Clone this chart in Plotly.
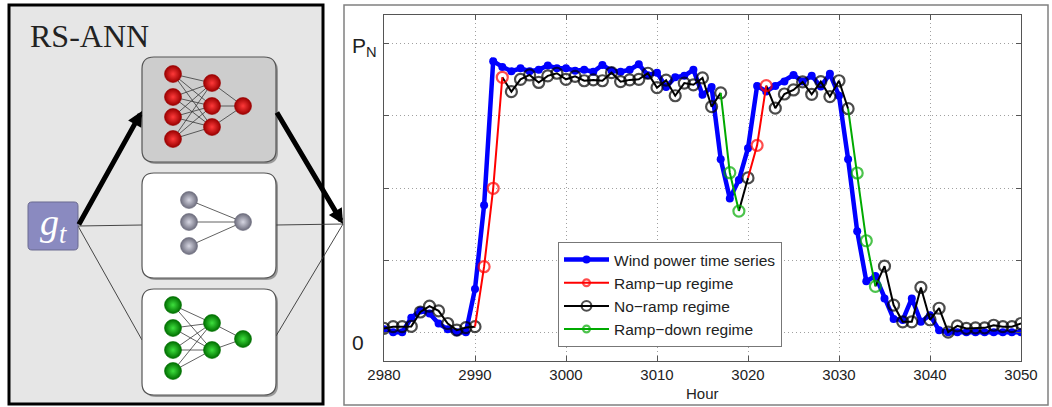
import plotly.graph_objects as go

# ---------------- data ----------------
hours = list(range(2980, 3051))
wind_power = [
    0.01, 0.0, 0.0, 0.05, 0.075, 0.065, 0.03, 0.01, 0.0, 0.0,          # 2980-2989
    0.15, 0.44, 0.94, 0.92, 0.905, 0.915, 0.905, 0.91, 0.925, 0.915,   # 2990-2999
    0.915, 0.907, 0.91, 0.903, 0.927, 0.907, 0.903, 0.91, 0.929, 0.891,  # 3000-3009
    0.90, 0.85, 0.884, 0.889, 0.91, 0.823, 0.85, 0.60, 0.464, 0.528,   # 3010-3019
    0.638, 0.854, 0.835, 0.854, 0.869, 0.892, 0.869, 0.889, 0.852, 0.896,  # 3020-3029
    0.82, 0.60, 0.35, 0.177, 0.195, 0.117, 0.046, 0.042, 0.117, 0.036,  # 3030-3039
    0.059, 0.007, 0.0, 0.0, 0.0, 0.0, 0.0, 0.0, 0.0, 0.0, 0.0,         # 3040-3050
]
forecast = [
    0.013, 0.019, 0.019, 0.02, 0.07, 0.09, 0.074, 0.03, 0.007, 0.016,  # 2980-2989
    0.019, 0.227, 0.499, 0.884, 0.834, 0.877, 0.892, 0.866, 0.889, 0.898,  # 2990-2999
    0.877, 0.887, 0.872, 0.875, 0.872, 0.90, 0.869, 0.875, 0.877, 0.898,  # 3000-3009
    0.848, 0.874, 0.82, 0.864, 0.858, 0.882, 0.782, 0.83, 0.553, 0.42,  # 3010-3019
    0.535, 0.648, 0.855, 0.777, 0.826, 0.84, 0.868, 0.825, 0.869, 0.817,  # 3020-3029
    0.872, 0.775, 0.552, 0.317, 0.159, 0.229, 0.094, 0.036, 0.036, 0.155,  # 3030-3039
    0.043, 0.083, 0.0, 0.022, 0.013, 0.015, 0.015, 0.024, 0.019, 0.019, 0.03,  # 3040-3050
]
# regime of each hour: U = ramp-up, N = no-ramp, D = ramp-down
regime = list(
    "NNNNNNNNNNN"        # 2980-2990
    "UUU"                # 2991-2993
    "NNNNNNNNNNNNNNNNNNNNNNNN"  # 2994-3017
    "DD"                 # 3018-3019
    "N"                  # 3020
    "UU"                 # 3021-3022
    "NNNNNNNNN"          # 3023-3031
    "DDD"                # 3032-3034
    "NNNNNNNNNNNNNNNN"   # 3035-3050
)
x_ticks = [2980, 2990, 3000, 3010, 3020, 3030, 3040, 3050]
y_grid = [0, 0.25, 0.5, 0.75, 1.0]

W, H = 1052, 407
FONT = "Liberation Sans"
LEFT_W = 344  # width of diagram panel in pixels


def X(px):
    return px / W


def Y(py):
    return 1 - py / H


fig = go.Figure()


def regime_trace(code, name, color, rank):
    xs, ys, sizes = [], [], []
    for i, r in enumerate(regime):
        if r != code:
            continue
        if i > 0 and regime[i - 1] != code:
            if xs:
                xs.append(None); ys.append(None); sizes.append(0)
            xs.append(hours[i - 1]); ys.append(forecast[i - 1]); sizes.append(0)
        xs.append(hours[i]); ys.append(forecast[i]); sizes.append(11)
    return go.Scatter(
        x=xs, y=ys, mode="lines+markers", name=name, legendrank=rank,
        legendgroup=name,
        line=dict(color=color, width=2),
        marker=dict(symbol="circle-open", size=sizes, color=color,
                    line=dict(width=2.2, color=color)),
        xaxis="x", yaxis="y",
    )


fig.add_trace(go.Scatter(
    x=hours, y=wind_power, mode="lines+markers", name="Wind power time series",
    legendrank=1, legendgroup="w",
    line=dict(color="#0000ff", width=4.5),
    marker=dict(symbol="circle", size=8, color="#0000ff"),
    xaxis="x", yaxis="y",
))
fig.add_trace(regime_trace("N", "No\u2212ramp regime", "#000000", 3))
fig.add_trace(regime_trace("U", "Ramp\u2212up regime", "#ff0000", 2))
fig.add_trace(regime_trace("D", "Ramp\u2212down regime", "#00aa00", 4))

# ---------------- diagram (paper coordinates from pixels) ----------------
shapes = []
annotations = []


def rrect(x0, y0, x1, y1, r):
    def p(a, b):
        return f"{X(a):.5f},{Y(b):.5f}"
    return (f"M{p(x0+r, y0)} L{p(x1-r, y0)} Q{p(x1, y0)} {p(x1, y0+r)} L{p(x1, y1-r)} "
            f"Q{p(x1, y1)} {p(x1-r, y1)} L{p(x0+r, y1)} Q{p(x0, y1)} {p(x0, y1-r)} "
            f"L{p(x0, y0+r)} Q{p(x0, y0)} {p(x0+r, y0)} Z")


def prect(x0, y0, x1, y1, **kw):
    shapes.append(dict(type="rect", xref="paper", yref="paper", x0=X(x0), x1=X(x1),
                       y0=Y(y1), y1=Y(y0), layer="below", **kw))


def pline(a, b, **kw):
    shapes.append(dict(type="line", xref="paper", yref="paper", x0=X(a[0]), y0=Y(a[1]),
                       x1=X(b[0]), y1=Y(b[1]), layer="below", **kw))


# right panel frame
prect(344, 5, 1048, 405, line=dict(color="#808080", width=1.5), fillcolor="rgba(0,0,0,0)")
# left outer box
prect(9, 5, 323, 404, line=dict(color="#000000", width=3), fillcolor="#e6e6e6")

gt = (28, 202, 78, 250)
src = (78, 226)
hub = (343, 224)
boxes = [(142, 57, 276, 162, "#cdcdcd"), (142, 173, 276, 278, "#ffffff"),
         (142, 289, 276, 395, "#ffffff")]

for (a, b) in [(src, (142, 225)), (src, (142, 340)), ((276, 225), hub), ((276, 336), hub)]:
    pline(a, b, line=dict(color="#333333", width=0.9))

for (x0, y0, x1, y1, fc) in boxes:
    shapes.append(dict(type="path", xref="paper", yref="paper",
                       path=rrect(x0 + 2, y0 + 2, x1 + 2, y1 + 2, 12),
                       fillcolor="rgba(60,60,60,0.45)", line=dict(width=0), layer="below"))
    shapes.append(dict(type="path", xref="paper", yref="paper", path=rrect(x0, y0, x1, y1, 12),
                       fillcolor=fc, line=dict(color="#555555", width=1.2), layer="below"))

shapes.append(dict(type="path", xref="paper", yref="paper", path=rrect(*gt, 4),
                   fillcolor="#8a8ac0", line=dict(color="#6a6a90", width=1), layer="below"))
annotations.append(dict(xref="paper", yref="paper", x=X(53), y=Y(225),
                        text="<i>g<sub>t</sub></i>", showarrow=False,
                        xanchor="center", yanchor="middle",
                        font=dict(family="Liberation Serif", size=38, color="white")))
annotations.append(dict(xref="paper", yref="paper", x=X(28), y=Y(36), xanchor="left",
                        yanchor="middle", text="RS-ANN", showarrow=False,
                        font=dict(family="Liberation Serif", size=32, color="#222222")))

for (a, b) in [(src, (142, 111)), ((276, 111), hub)]:
    annotations.append(dict(xref="paper", yref="paper", x=X(b[0]), y=Y(b[1]),
                            axref="pixel", ayref="pixel", ax=a[0] - b[0], ay=a[1] - b[1],
                            text="", showarrow=True,
                            arrowhead=2, arrowsize=0.6, arrowwidth=5, arrowcolor="#000000"))

# neural networks (subplot x2/y2 covers only the diagram panel, pixel units)
nets = [
    # layers, edge colour, centre (highlight) colour
    ([(173, [74, 97, 117, 139]), (212, [83, 106, 127]), (243, [106])], "#9a0000", "#ff3a3a"),
    ([(189, [200, 222, 246]), (243, [222])], "#6c6c7c", "#d6d6e2"),
    ([(173, [305, 328, 350, 371]), (212, [323, 350]), (243, [339])], "#006e00", "#3ee03e"),
]
for layers, edge, centre in nets:
    lx, ly = [], []
    for (xa, ya), (xb, yb) in zip(layers[:-1], layers[1:]):
        for y1 in ya:
            for y2 in yb:
                lx += [xa, xb, None]
                ly += [y1, y2, None]
    fig.add_trace(go.Scatter(x=lx, y=ly, mode="lines", xaxis="x2", yaxis="y2",
                             line=dict(color="#3a3a3a", width=0.8), showlegend=False,
                             hoverinfo="skip"))
    nx = [x for x, ys in layers for _ in ys]
    ny = [y for _, ys in layers for y in ys]
    fig.add_trace(go.Scatter(x=nx, y=ny, mode="markers", xaxis="x2", yaxis="y2",
                             marker=dict(size=17, color=edge,
                                         gradient=dict(type="radial", color=centre),
                                         line=dict(color=edge, width=0.6)),
                             showlegend=False, hoverinfo="skip"))

# ---------------- chart labels ----------------
annotations.append(dict(xref="paper", yref="paper", x=X(379), y=Y(47), xanchor="right",
                        yanchor="middle", text="P<sub>N</sub>", showarrow=False,
                        font=dict(family=FONT, size=21, color="#222222")))
annotations.append(dict(xref="paper", yref="paper", x=X(358), y=Y(342), xanchor="center",
                        yanchor="middle", text="0", showarrow=False,
                        font=dict(family=FONT, size=21, color="#222222")))
annotations.append(dict(xref="paper", yref="paper", x=X(702), y=Y(393), xanchor="center",
                        yanchor="middle", text="Hour", showarrow=False,
                        font=dict(family=FONT, size=15, color="#222222")))

ax_common = dict(showline=True, linecolor="#555555", linewidth=1, mirror="ticks",
                 ticks="inside", ticklen=5, tickcolor="#555555",
                 showgrid=True, gridcolor="#a0a0a0", gridwidth=1, griddash="1px,3px",
                 zeroline=False, automargin=False)

fig.update_layout(
    width=W, height=H, margin=dict(l=0, r=0, t=0, b=0, pad=0, autoexpand=False),
    autosize=False,
    paper_bgcolor="white", plot_bgcolor="white",
    font=dict(family=FONT, size=15, color="#222222"),
    xaxis=dict(domain=[X(384), X(1021)], range=[2980, 3050], anchor="y",
               tickvals=x_ticks, tickfont=dict(size=15), **ax_common),
    yaxis=dict(domain=[Y(361), Y(15)], range=[-0.1, 1.1], anchor="x",
               tickvals=y_grid, showticklabels=False, **ax_common),
    xaxis2=dict(domain=[0, X(LEFT_W)], range=[0, LEFT_W], anchor="y2", visible=False),
    yaxis2=dict(domain=[0, 1], range=[H, 0], anchor="x2", visible=False),
    legend=dict(x=X(558), y=Y(242), xanchor="left", yanchor="top",
                bgcolor="white", bordercolor="#777777", borderwidth=1,
                font=dict(family=FONT, size=15.5, color="#222222"),
                tracegroupgap=0, itemwidth=45),
    shapes=shapes, annotations=annotations,
    showlegend=True,
)

fig.write_html(
    "out.html",
    config={"displayModeBar": False},
    post_script="document.body.style.margin='0px';document.body.style.overflow='hidden';",
)
